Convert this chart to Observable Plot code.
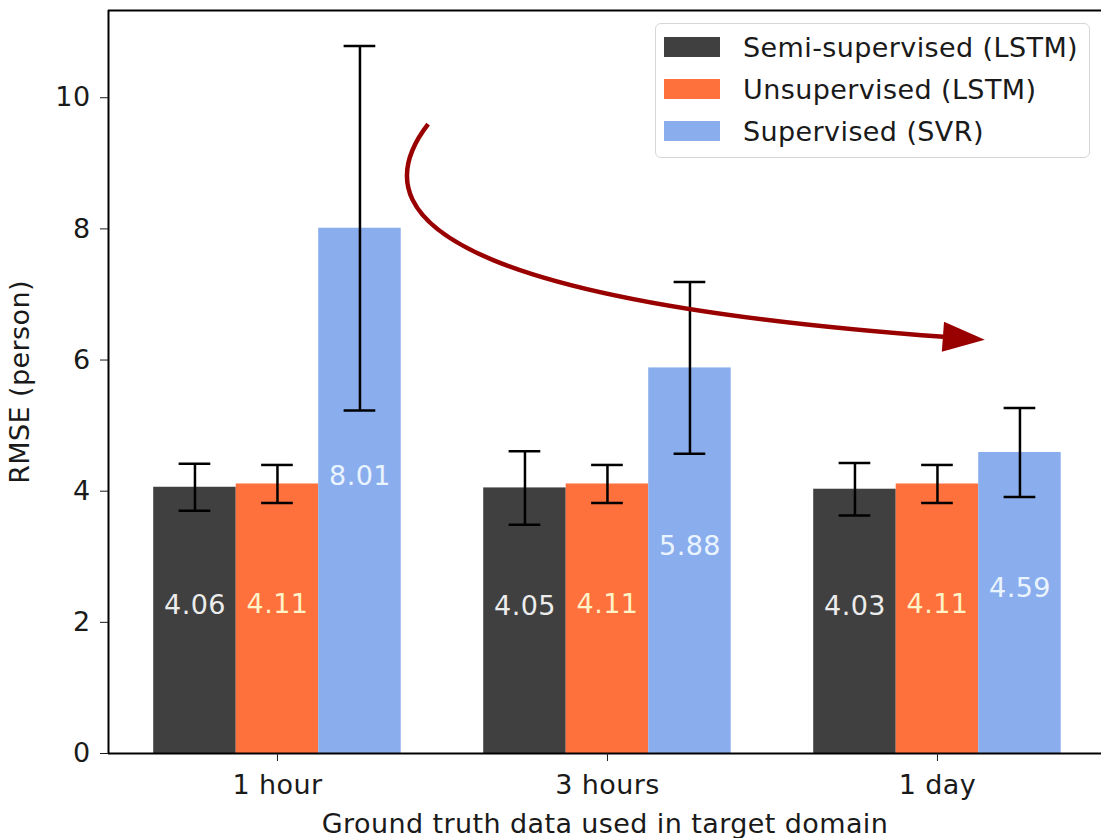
<!DOCTYPE html>
<html><head><meta charset="utf-8">
<script src="https://cdn.jsdelivr.net/npm/d3@7"></script>
<script src="https://cdn.jsdelivr.net/npm/@observablehq/plot@0.6"></script>
<style>
body{margin:0;background:#fff;}
#wrap{position:relative;width:1101px;height:838px;font-family:"DejaVu Sans",sans-serif;overflow:hidden;}
.legend{position:absolute;left:655px;top:23px;width:435px;height:135px;border:1.5px solid #d6d6d6;border-radius:6px;background:rgba(255,255,255,0.85);box-sizing:border-box;}
.row{position:absolute;left:8px;height:30px;display:flex;align-items:center;}
.sw{width:56px;height:20px;margin-right:23px;}
.lt{font-size:27px;letter-spacing:0.4px;color:#1a1a1a;white-space:nowrap;}
</style></head>
<body><div id="wrap"></div>
<script>
const groups = ["1 hour", "3 hours", "1 day"];
const series = ["Semi-supervised (LSTM)", "Unsupervised (LSTM)", "Supervised (SVR)"];
const colors = ["#404040", "#fe703c", "#8aaded"];
const labelColors = ["#ececec", "#fff3c8", "#eaf4ff"];
const semi = [4.06, 4.05, 4.03];
const unsup = [4.11, 4.11, 4.11];
const svr = [8.01, 5.88, 4.59];
const semiErr = [0.36, 0.56, 0.40];
const unsupErr = [0.29, 0.29, 0.29];
const svrErr = [2.78, 1.31, 0.68];
const yTicks = [0, 2, 4, 6, 8, 10];
// annotation arrow: start, control, end (data units)
const arrowPts = [[0.458, 9.59], [0.070, 7.06], [2.145, 6.30]];

const barW = 0.25, capHalf = 0.048;
const vals = [semi, unsup, svr], errs = [semiErr, unsupErr, svrErr];
const rows = [];
groups.forEach((g, gi) => series.forEach((s, si) => {
  rows.push({group: g, series: s, si, x: gi + (si - 1) * barW, value: vals[si][gi], err: errs[si][gi]});
}));
const caps = rows.flatMap(d => [
  {x: d.x, y: d.value - d.err}, {x: d.x, y: d.value + d.err}
]);

function arrowMark(index, scales) {
  const {x, y} = scales;
  const [p0, p1, p2] = arrowPts.map(([a, b]) => [x(a), y(b)]);
  const ns = "http://www.w3.org/2000/svg";
  const g = document.createElementNS(ns, "g");
  const dx = p2[0] - p1[0], dy = p2[1] - p1[1];
  const len = Math.hypot(dx, dy), ux = dx / len, uy = dy / len;
  const L = 42, H = 15;
  const base = [p2[0] - ux * L, p2[1] - uy * L];
  const end = [p2[0] - ux * (L - 4), p2[1] - uy * (L - 4)];
  const path = document.createElementNS(ns, "path");
  path.setAttribute("d", `M${p0[0]},${p0[1]} Q${p1[0]},${p1[1]} ${end[0]},${end[1]}`);
  path.setAttribute("fill", "none");
  path.setAttribute("stroke", "#990000");
  path.setAttribute("stroke-width", 4.5);
  g.appendChild(path);
  const head = document.createElementNS(ns, "path");
  head.setAttribute("d", `M${p2[0]},${p2[1]} L${base[0] - uy * H},${base[1] + ux * H} L${base[0] + uy * H},${base[1] - ux * H} Z`);
  head.setAttribute("fill", "#990000");
  g.appendChild(head);
  return g;
}

const xLeft = -0.512, pxPerUnit = 330;
const W = 1101, ML = 108;
const chart = Plot.plot({
  width: W, height: 838,
  marginLeft: ML, marginRight: 0, marginTop: 10, marginBottom: 85,
  style: {fontFamily: "DejaVu Sans, sans-serif", fontSize: "27px", letterSpacing: "0.4px", color: "#1a1a1a", background: "#fff"},
  x: {type: "linear", domain: [xLeft, xLeft + (W - ML) / pxPerUnit]},
  y: {domain: [0, 11.33]},
  color: {domain: series, range: colors},
  marks: [
    Plot.rect(rows, {x1: d => d.x - barW / 2, x2: d => d.x + barW / 2, y1: 0, y2: "value", fill: "series"}),
    ...series.map((s, si) => Plot.text(rows.filter(d => d.si === si), {
      x: "x", y: d => d.value / 2, text: d => d.value.toFixed(2),
      fill: labelColors[si], fontSize: 27, lineAnchor: "bottom", dy: -6
    })),
    Plot.ruleX(rows, {x: "x", y1: d => d.value - d.err, y2: d => d.value + d.err, stroke: "#000", strokeWidth: 2.5}),
    Plot.ruleY(caps, {y: "y", x1: d => d.x - capHalf, x2: d => d.x + capHalf, stroke: "#000", strokeWidth: 2.5}),
    arrowMark,
    Plot.ruleX([xLeft], {stroke: "#000", strokeWidth: 2}),
    Plot.ruleY([0, 11.33], {stroke: "#000", strokeWidth: 2}),
    Plot.axisY({ticks: yTicks, tickSize: 8, tickPadding: 10, tickFormat: d => String(d),
      label: "RMSE (person)", labelAnchor: "center", labelArrow: "none", labelOffset: 99}),
    Plot.axisX({ticks: [0, 1, 2], tickSize: 8, tickPadding: 13, tickFormat: i => groups[i],
      label: "Ground truth data used in target domain", labelAnchor: "center", labelArrow: "none", labelOffset: 79})
  ]
});
const wrap = document.getElementById("wrap");
wrap.appendChild(chart);

const legend = document.createElement("div");
legend.className = "legend";
series.forEach((s, i) => {
  const r = document.createElement("div");
  r.className = "row";
  r.style.top = (8 + i * 42) + "px";
  r.innerHTML = `<div class="sw" style="background:${colors[i]}"></div><div class="lt">${s}</div>`;
  legend.appendChild(r);
});
wrap.appendChild(legend);
</script></body></html>
